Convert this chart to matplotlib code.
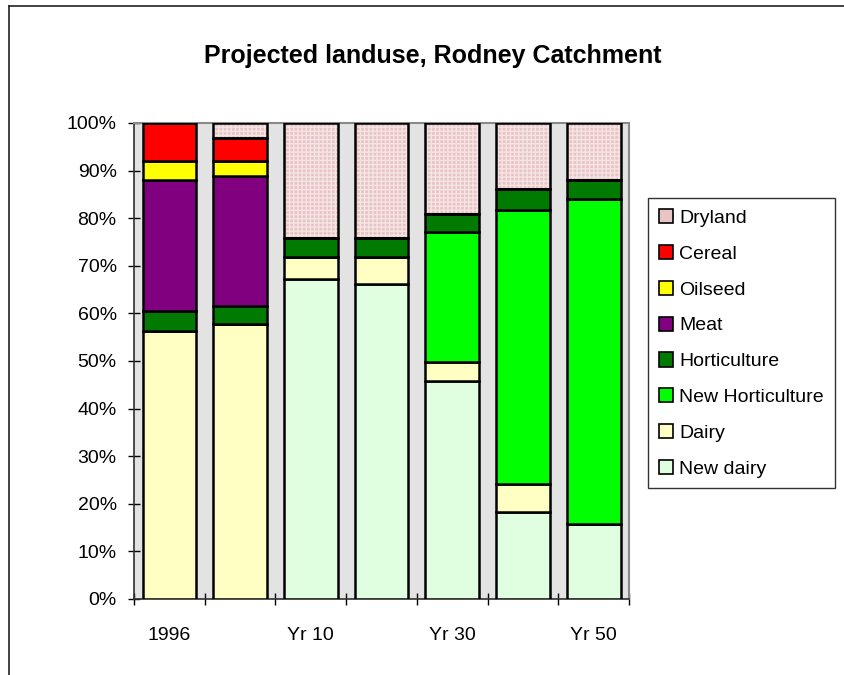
import matplotlib
matplotlib.use("Agg")
import matplotlib.pyplot as plt
import numpy as np
from matplotlib.patches import Patch
from matplotlib.lines import Line2D

plt.rcParams['font.family'] = ['Liberation Sans', 'DejaVu Sans']

categories = ["1996", "", "Yr 10", "", "Yr 30", "", "Yr 50"]
series_names = ["New dairy", "Dairy", "New Horticulture", "Horticulture",
                "Meat", "Oilseed", "Cereal", "Dryland"]
new_dairy = [0.0, 0.0, 67.2, 66.1, 45.9, 18.2, 15.8]
dairy = [56.4, 57.7, 4.7, 5.8, 3.9, 5.9, 0.0]
new_hort = [0.0, 0.0, 0.0, 0.0, 27.2, 57.7, 68.3]
hort = [4.0, 3.9, 3.9, 3.9, 3.9, 4.3, 3.9]
meat = [27.7, 27.3, 0.0, 0.0, 0.0, 0.0, 0.0]
oilseed = [4.0, 3.1, 0.0, 0.0, 0.0, 0.0, 0.0]
cereal = [8.0, 4.8, 0.0, 0.0, 0.0, 0.0, 0.0]
dryland = [0.0, 3.2, 24.2, 24.2, 19.1, 13.9, 12.0]

series = [new_dairy, dairy, new_hort, hort, meat, oilseed, cereal, dryland]
colors = ["#E0FFE0", "#FFFFC4", "#00FF00", "#007A00", "#800080",
          "#FFFF00", "#FF0000", "#E9C4C4"]

fig = plt.figure(figsize=(8.44, 6.75), dpi=100)
ax = fig.add_axes([0.1588, 0.1126, 0.5865, 0.7052])
ax.set_facecolor("#E3E3E3")

x = np.arange(len(categories))
width = 0.76
bottom = np.zeros(len(categories))
handles = []
for name, vals, col in zip(series_names, series, colors):
    vals = np.array(vals, dtype=float)
    if name == "Dryland":
        ax.bar(x, vals, width, bottom=bottom, facecolor=col,
               edgecolor="#F5E4E4", hatch="++++", linewidth=0, zorder=2)
        ax.bar(x, vals, width, bottom=bottom, fill=False,
               edgecolor="black", linewidth=1.8, zorder=3)
    else:
        ax.bar(x, vals, width, bottom=bottom, color=col,
               edgecolor="black", linewidth=1.8, zorder=3)
    handles.append(Patch(facecolor=col, edgecolor="black", linewidth=1.2))
    bottom += vals

ax.set_xlim(-0.5, len(categories) - 0.5)
ax.set_ylim(0, 100)
ax.set_yticks(np.arange(0, 101, 10))
ax.set_yticklabels([f"{v}%" for v in range(0, 101, 10)], fontsize=14)
ax.tick_params(axis='y', direction='inout', length=9, width=1, pad=8)

ax.set_xticks(np.arange(-0.5, len(categories), 1.0))
ax.set_xticklabels([])
ax.tick_params(axis='x', which='major', direction='inout', length=9, width=1)
ax.set_xticks(x, minor=True)
ax.set_xticklabels(categories, minor=True, fontsize=14)
ax.tick_params(axis='x', which='minor', length=0, pad=20)

for s in ["left", "bottom"]:
    ax.spines[s].set_color("#303030")
    ax.spines[s].set_linewidth(1.2)
for s in ["top", "right"]:
    ax.spines[s].set_color("#8A8A8A")
    ax.spines[s].set_linewidth(1.5)

fig.text(0.513, 0.917, "Projected landuse, Rodney Catchment",
         ha='center', va='center', fontsize=18, fontweight='bold')

leg = fig.legend(handles[::-1], series_names[::-1], loc='upper left',
                 bbox_to_anchor=(0.768, 0.706), fontsize=14, frameon=True,
                 fancybox=False, shadow=False, handlelength=0.75,
                 handleheight=0.75, handletextpad=0.3, labelspacing=0.92,
                 borderpad=0.55, borderaxespad=0)
leg.get_frame().set_edgecolor("black")
leg.get_frame().set_linewidth(1.0)

# outer chart border (top and left visible)
fig.add_artist(Line2D([9/844, 1.0], [1 - 6/675, 1 - 6/675],
                      transform=fig.transFigure, color="#222222", lw=1.2))
fig.add_artist(Line2D([9/844, 9/844], [0, 1 - 6/675],
                      transform=fig.transFigure, color="#222222", lw=1.2))

fig.savefig("out.png", dpi=100)
